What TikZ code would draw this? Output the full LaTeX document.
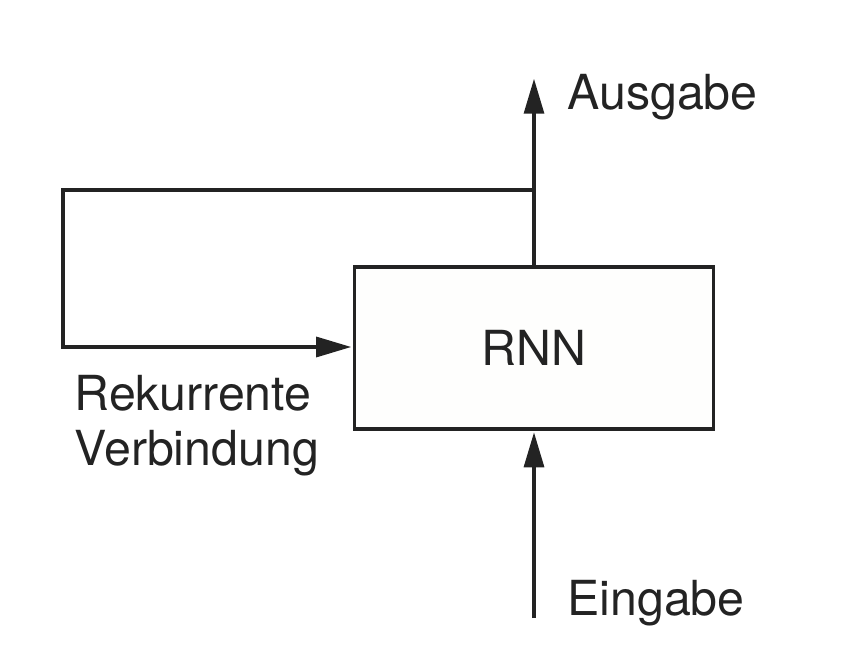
\documentclass[tikz,border=0pt]{standalone}
\usepackage{fontspec}
\setmainfont{TeX Gyre Heros}
\usetikzlibrary{positioning,arrows.meta}
\definecolor{ink}{HTML}{232323}
\definecolor{boxfill}{HTML}{FEFEFD}

\begin{document}
\begin{tikzpicture}[x=0.02cm, y=-0.02cm, line width=1.8pt, color=ink,
    arr/.style={-{Triangle[length=0.7cm,width=0.4cm]}, shorten >=1pt},
    lbl/.style={text=ink, font=\fontsize{27.5}{31.2}\selectfont, inner sep=0pt}]
      \useasboundingbox (0,0) rectangle (856,662);
      \node[draw, fill=boxfill, minimum width=7.18cm, minimum height=3.24cm, lbl] (RNN) at (534,348) {RNN};
      \coordinate (out) at (534,77);
      \coordinate (split) at (534,190);
      \coordinate (loop) at (63,347);
      \coordinate (in) at (534,618);
      \draw[arr] (RNN.north) to (out);
      \draw[arr] (split) -| (loop) to (RNN.west |- loop);
      \draw[arr] (in) to (RNN.south);
      \node[lbl, anchor=base west] (ausgabe) at (566,110) {Ausgabe};
      \node[lbl, anchor=base west] (eingabe) at (566,615) {Eingabe};
      \node[lbl, anchor=base west, align=left] (rekurrent) at (73,465) {Rekurrente\\Verbindung};
    \end{tikzpicture}
\end{document}
